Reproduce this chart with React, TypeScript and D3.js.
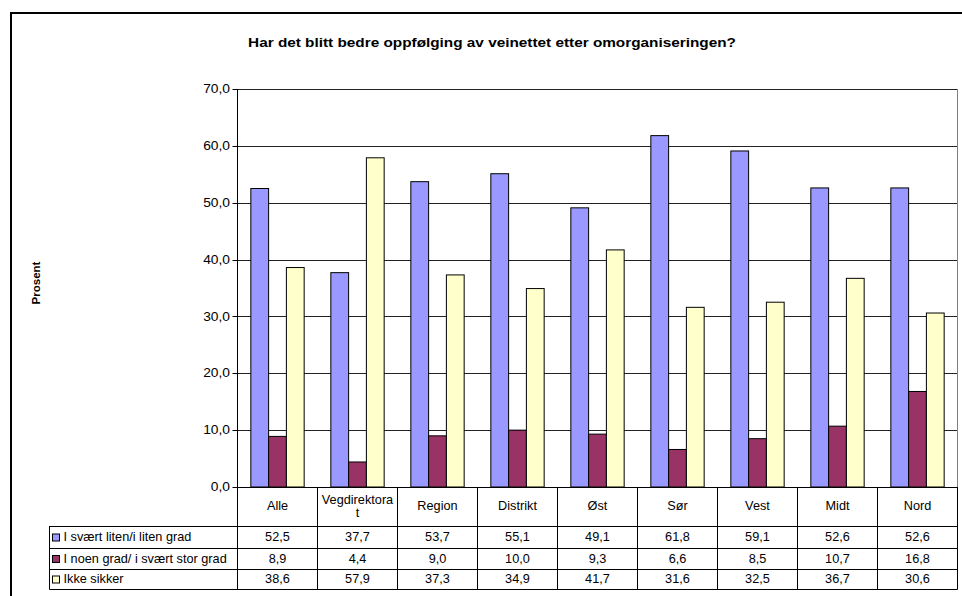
import React from "react";
import * as d3 from "d3";

// Chart data
const categories = ["Alle", "Vegdirektorat", "Region", "Distrikt", "Øst", "Sør", "Vest", "Midt", "Nord"];
const seriesNames = ["I svært liten/i liten grad", "I noen grad/ i svært stor grad", "Ikke sikker"];
const seriesLiten = [52.5, 37.7, 53.7, 55.1, 49.1, 61.8, 59.1, 52.6, 52.6];
const seriesNoen = [8.9, 4.4, 9.0, 10.0, 9.3, 6.6, 8.5, 10.7, 16.8];
const seriesIkke = [38.6, 57.9, 37.3, 34.9, 41.7, 31.6, 32.5, 36.7, 30.6];
const yTicks = [0, 10, 20, 30, 40, 50, 60, 70];
const title = "Har det blitt bedre oppfølging av veinettet etter omorganiseringen?";
const yTitle = "Prosent";

const seriesValues = [seriesLiten, seriesNoen, seriesIkke];
const seriesColors = ["#9999FF", "#993366", "#FFFFCC"];

const W = 962;
const H = 596;
const plotLeft = 237.5;
const plotRight = 957.5;
const plotTop = 89;
const plotBottom = 487;
const headerBottom = 526;
const rowLines = [526, 548, 569, 589];
const legendLeft = 49.5;

const FONT = "'Liberation Sans', Arial, sans-serif";

const fmt = (v: number) => d3.format(".1f")(v).replace(".", ",");

// Text with a slight horizontal stretch of the glyphs
function SText({ x, y, anchor = "middle", size = 12, weight = "normal", sx = 1.06, children }: any) {
  return (
    <g transform={`translate(${x},${y}) scale(${sx},1)`}>
      <text
        x={0}
        y={0}
        textAnchor={anchor}
        dominantBaseline="central"
        fontFamily={FONT}
        fontSize={size}
        fontWeight={weight}
        fill="#000"
      >
        {children}
      </text>
    </g>
  );
}

export default function App() {
  const x = d3.scaleBand<string>().domain(categories).range([plotLeft, plotRight]).paddingInner(0).paddingOuter(0);
  const inner = d3
    .scaleBand<number>()
    .domain(d3.range(seriesValues.length))
    .range([0, x.bandwidth()])
    .paddingInner(0)
    .paddingOuter(0.75);
  const y = d3.scaleLinear().domain([0, 70]).range([plotBottom, plotTop]);

  const boundaries = categories.map((c) => x(c) as number).concat([plotRight]);

  return (
    <svg
      width={W}
      height={H}
      viewBox={`0 0 ${W} ${H}`}
      style={{ position: "absolute", left: 0, top: 0, background: "#fff" }}
    >
      <rect x={0} y={0} width={W} height={H} fill="#fff" />

      {/* outer frame */}
      <path d={`M11,${H} L11,13 L${W},13`} fill="none" stroke="#000" strokeWidth={2} />

      {/* title */}
      <SText x={492} y={42} size={13} weight="bold" sx={1.18}>
        {title}
      </SText>

      {/* gridlines */}
      {yTicks
        .filter((t) => t > 0)
        .map((t) => (
          <line
            key={t}
            x1={plotLeft}
            x2={plotRight}
            y1={Math.round(y(t)) + 0.5}
            y2={Math.round(y(t)) + 0.5}
            stroke="#222"
            strokeWidth={1}
          />
        ))}
      {/* plot area right border */}
      <line x1={plotRight} x2={plotRight} y1={plotTop} y2={plotBottom} stroke="#808080" strokeWidth={1} />

      {/* bars */}
      {seriesValues.map((vals, si) =>
        vals.map((v, ci) => {
          const bx = (x(categories[ci]) as number) + (inner(si) as number);
          const top = y(v);
          return (
            <rect
              key={`${si}-${ci}`}
              x={bx}
              y={top}
              width={inner.bandwidth()}
              height={plotBottom - top}
              fill={seriesColors[si]}
              stroke="#000"
              strokeWidth={1}
            />
          );
        })
      )}

      {/* y axis */}
      <line x1={plotLeft} x2={plotLeft} y1={plotTop} y2={plotBottom} stroke="#000" strokeWidth={1} />
      {yTicks.map((t) => (
        <g key={t}>
          <line
            x1={plotLeft - 5}
            x2={plotLeft}
            y1={Math.round(y(t)) + 0.5}
            y2={Math.round(y(t)) + 0.5}
            stroke="#000"
          />
          <SText x={230} y={y(t)} anchor="end" size={12} sx={1.15}>
            {fmt(t)}
          </SText>
        </g>
      ))}

      {/* y axis title */}
      <g transform={`translate(36,283) rotate(-90)`}>
        <text
          textAnchor="middle"
          dominantBaseline="central"
          fontFamily={FONT}
          fontSize={11.5}
          fontWeight="bold"
        >
          {yTitle}
        </text>
      </g>

      {/* data table */}
      <line x1={plotLeft} x2={plotRight} y1={plotBottom + 0.5} y2={plotBottom + 0.5} stroke="#000" />
      {rowLines.map((ry) => (
        <line key={ry} x1={legendLeft} x2={plotRight} y1={ry + 0.5} y2={ry + 0.5} stroke="#000" />
      ))}
      <line x1={legendLeft} x2={legendLeft} y1={headerBottom} y2={rowLines[3] + 0.5} stroke="#000" />
      {boundaries.map((bx, i) => (
        <line key={i} x1={bx} x2={bx} y1={plotBottom} y2={rowLines[3] + 0.5} stroke="#000" />
      ))}

      {/* category labels */}
      {categories.map((c) => {
        const cx = (x(c) as number) + x.bandwidth() / 2;
        const cy = (plotBottom + headerBottom) / 2;
        if (c === "Vegdirektorat") {
          return (
            <g key={c}>
              <SText x={cx} y={cy - 6.5} size={12}>
                Vegdirektora
              </SText>
              <SText x={cx} y={cy + 6.5} size={12}>
                t
              </SText>
            </g>
          );
        }
        return (
          <SText key={c} x={cx} y={cy} size={12}>
            {c}
          </SText>
        );
      })}

      {/* series rows */}
      {seriesValues.map((vals, si) => {
        const cy = (rowLines[si] + rowLines[si + 1]) / 2 + 0.5;
        return (
          <g key={si}>
            <rect
              x={52.5}
              y={cy - 3.5}
              width={7}
              height={7}
              fill={seriesColors[si]}
              stroke="#000"
              strokeWidth={1}
            />
            <SText x={63.5} y={cy} anchor="start" size={12}>
              {seriesNames[si]}
            </SText>
            {vals.map((v, ci) => (
              <SText key={ci} x={(x(categories[ci]) as number) + x.bandwidth() / 2} y={cy} size={12}>
                {fmt(v)}
              </SText>
            ))}
          </g>
        );
      })}
    </svg>
  );
}
